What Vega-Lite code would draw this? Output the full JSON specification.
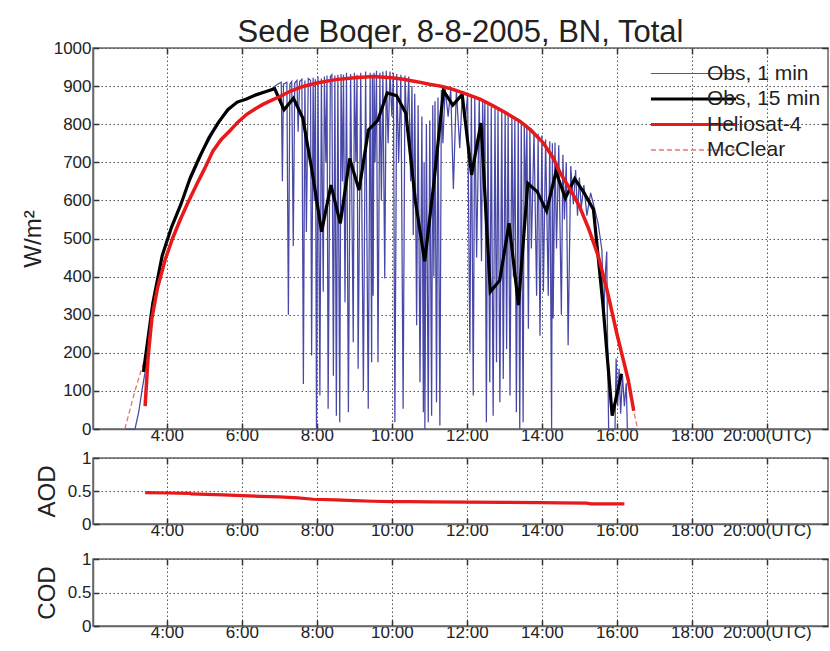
{
  "$schema": "https://vega.github.io/schema/vega-lite/v6.json",
  "background": "white",
  "padding": {"left": 20, "top": 16, "right": 2, "bottom": 2},
  "datasets": {
    "blue": [
      {"t":2.88,"v":0},{"t":3.15,"v":0},{"t":3.25,"v":45},{"t":3.35,"v":110},{"t":3.42,"v":150},{"t":3.5,"v":220},{"t":3.6,"v":310},{"t":3.75,"v":390},{"t":3.9,"v":460},{"t":4.1,"v":525},{"t":4.3,"v":575},{"t":4.5,"v":625},{"t":4.75,"v":680},{"t":5.0,"v":735},{"t":5.25,"v":780},{"t":5.5,"v":820},{"t":5.75,"v":848},{"t":6.0,"v":862},{"t":6.25,"v":870},{"t":6.5,"v":880},{"t":6.75,"v":890},{"t":6.95,"v":905},
      {"t":7.05,"v":910},{"t":7.08,"v":650},{"t":7.11,"v":905},{"t":7.2,"v":910},{"t":7.24,"v":300},{"t":7.28,"v":905},{"t":7.33,"v":912},{"t":7.37,"v":480},{"t":7.41,"v":908},{"t":7.47,"v":915},{"t":7.5,"v":780},{"t":7.54,"v":912},{"t":7.6,"v":918},{"t":7.64,"v":118},{"t":7.68,"v":915},{"t":7.72,"v":517},{"t":7.77,"v":920},{"t":7.83,"v":915},{"t":7.86,"v":193},{"t":7.9,"v":922},{"t":7.93,"v":600},{"t":7.96,"v":918},{"t":7.99,"v":0},{"t":8.03,"v":925},{"t":8.08,"v":88},{"t":8.12,"v":920},{"t":8.17,"v":360},{"t":8.2,"v":925},{"t":8.24,"v":700},{"t":8.27,"v":928},{"t":8.3,"v":53},{"t":8.36,"v":925},{"t":8.4,"v":930},{"t":8.44,"v":140},{"t":8.48,"v":928},{"t":8.52,"v":35},{"t":8.56,"v":930},{"t":8.61,"v":18},{"t":8.645,"v":932},{"t":8.68,"v":650},{"t":8.71,"v":930},{"t":8.75,"v":333},{"t":8.79,"v":935},{"t":8.84,"v":44},{"t":8.9,"v":932},{"t":8.97,"v":228},{"t":9.0,"v":935},{"t":9.04,"v":700},{"t":9.07,"v":930},{"t":9.1,"v":158},{"t":9.17,"v":935},{"t":9.24,"v":100},{"t":9.3,"v":938},{"t":9.37,"v":53},{"t":9.42,"v":935},{"t":9.46,"v":175},{"t":9.48,"v":930},{"t":9.5,"v":350},{"t":9.525,"v":935},{"t":9.55,"v":700},{"t":9.59,"v":940},{"t":9.63,"v":175},{"t":9.68,"v":935},{"t":9.72,"v":600},{"t":9.76,"v":938},{"t":9.81,"v":395},{"t":9.85,"v":940},{"t":9.9,"v":750},{"t":9.95,"v":938},{"t":10.0,"v":820},{"t":10.04,"v":935},{"t":10.08,"v":18},{"t":10.13,"v":932},{"t":10.18,"v":700},{"t":10.24,"v":930},{"t":10.3,"v":53},{"t":10.35,"v":928},{"t":10.4,"v":780},{"t":10.45,"v":925},{"t":10.5,"v":650},{"t":10.535,"v":900},{"t":10.57,"v":509},{"t":10.61,"v":880},{"t":10.66,"v":272},{"t":10.7,"v":850},{"t":10.75,"v":123},{"t":10.8,"v":820},{"t":10.84,"v":44},{"t":10.86,"v":700},{"t":10.88,"v":0},{"t":10.92,"v":800},{"t":10.97,"v":18},{"t":11.01,"v":810},{"t":11.06,"v":35},{"t":11.09,"v":850},{"t":11.12,"v":400},{"t":11.15,"v":860},{"t":11.19,"v":70},{"t":11.23,"v":870},{"t":11.28,"v":9},{"t":11.32,"v":890},{"t":11.36,"v":750},{"t":11.42,"v":895},{"t":11.5,"v":820},{"t":11.57,"v":892},{"t":11.64,"v":630},{"t":11.72,"v":890},{"t":11.81,"v":737},{"t":11.88,"v":885},{"t":11.95,"v":800},{"t":12.02,"v":880},{"t":12.08,"v":200},{"t":12.12,"v":875},{"t":12.17,"v":88},{"t":12.21,"v":870},{"t":12.26,"v":450},{"t":12.33,"v":868},{"t":12.39,"v":440},{"t":12.42,"v":860},{"t":12.45,"v":700},{"t":12.48,"v":858},{"t":12.52,"v":18},{"t":12.56,"v":850},{"t":12.61,"v":123},{"t":12.65,"v":845},{"t":12.7,"v":35},{"t":12.75,"v":842},{"t":12.79,"v":175},{"t":12.83,"v":838},{"t":12.88,"v":70},{"t":12.93,"v":835},{"t":12.97,"v":131},{"t":13.02,"v":830},{"t":13.06,"v":210},{"t":13.1,"v":825},{"t":13.15,"v":88},{"t":13.2,"v":820},{"t":13.24,"v":400},{"t":13.28,"v":815},{"t":13.32,"v":44},{"t":13.37,"v":812},{"t":13.41,"v":0},{"t":13.45,"v":808},{"t":13.5,"v":18},{"t":13.53,"v":800},{"t":13.57,"v":600},{"t":13.6,"v":795},{"t":13.64,"v":263},{"t":13.68,"v":790},{"t":13.72,"v":474},{"t":13.79,"v":780},{"t":13.86,"v":350},{"t":13.9,"v":775},{"t":13.95,"v":245},{"t":14.0,"v":770},{"t":14.04,"v":360},{"t":14.1,"v":760},{"t":14.17,"v":350},{"t":14.21,"v":755},{"t":14.26,"v":0},{"t":14.28,"v":750},{"t":14.3,"v":290},{"t":14.35,"v":752},{"t":14.39,"v":474},{"t":14.45,"v":745},{"t":14.52,"v":300},{"t":14.56,"v":720},{"t":14.6,"v":550},{"t":14.65,"v":700},{"t":14.7,"v":220},{"t":14.77,"v":690},{"t":14.84,"v":590},{"t":14.9,"v":680},{"t":14.95,"v":560},{"t":15.0,"v":660},{"t":15.05,"v":580},{"t":15.12,"v":640},{"t":15.2,"v":560},{"t":15.3,"v":620},{"t":15.4,"v":580},{"t":15.5,"v":540},{"t":15.6,"v":470},{"t":15.65,"v":300},{"t":15.7,"v":420},{"t":15.73,"v":466},{"t":15.75,"v":250},{"t":15.78,"v":0},{"t":15.95,"v":0},{"t":15.98,"v":185},{"t":16.02,"v":60},{"t":16.06,"v":158},{"t":16.1,"v":40},{"t":16.15,"v":140},{"t":16.2,"v":60},{"t":16.25,"v":120},{"t":16.28,"v":0},{"t":16.5,"v":0}
    ],
    "black": [
      {"t":3.375,"v":150},{"t":3.625,"v":330},{"t":3.875,"v":455},{"t":4.125,"v":530},{"t":4.375,"v":590},{"t":4.625,"v":660},{"t":4.875,"v":715},{"t":5.125,"v":765},{"t":5.375,"v":805},{"t":5.625,"v":838},{"t":5.875,"v":858},{"t":6.125,"v":866},{"t":6.375,"v":877},{"t":6.625,"v":885},{"t":6.875,"v":893},{"t":7.125,"v":838},{"t":7.375,"v":868},{"t":7.625,"v":816},{"t":7.875,"v":675},{"t":8.125,"v":518},{"t":8.375,"v":640},{"t":8.625,"v":540},{"t":8.875,"v":710},{"t":9.125,"v":627},{"t":9.375,"v":785},{"t":9.625,"v":810},{"t":9.875,"v":882},{"t":10.125,"v":875},{"t":10.375,"v":828},{"t":10.625,"v":600},{"t":10.875,"v":440},{"t":11.125,"v":650},{"t":11.375,"v":888},{"t":11.625,"v":850},{"t":11.875,"v":878},{"t":12.125,"v":667},{"t":12.375,"v":803},{"t":12.625,"v":360},{"t":12.875,"v":390},{"t":13.125,"v":540},{"t":13.375,"v":325},{"t":13.625,"v":645},{"t":13.875,"v":623},{"t":14.125,"v":572},{"t":14.375,"v":675},{"t":14.625,"v":606},{"t":14.875,"v":657},{"t":15.125,"v":620},{"t":15.375,"v":576},{"t":15.625,"v":330},{"t":15.875,"v":35},{"t":16.125,"v":145}
    ],
    "red": [
      {"t":3.42,"v":60},{"t":3.5,"v":190},{"t":3.6,"v":290},{"t":3.75,"v":370},{"t":3.95,"v":443},{"t":4.15,"v":500},{"t":4.35,"v":548},{"t":4.55,"v":592},{"t":4.8,"v":643},{"t":5.0,"v":682},{"t":5.23,"v":730},{"t":5.45,"v":760},{"t":5.68,"v":783},{"t":5.9,"v":806},{"t":6.13,"v":826},{"t":6.35,"v":840},{"t":6.56,"v":852},{"t":6.8,"v":863},{"t":7.0,"v":872},{"t":7.3,"v":887},{"t":7.63,"v":899},{"t":8.0,"v":908},{"t":8.5,"v":917},{"t":9.0,"v":922},{"t":9.5,"v":925},{"t":10.0,"v":922},{"t":10.3,"v":918},{"t":10.7,"v":911},{"t":11.0,"v":905},{"t":11.3,"v":900},{"t":11.55,"v":894},{"t":11.9,"v":882},{"t":12.35,"v":866},{"t":12.7,"v":848},{"t":13.0,"v":832},{"t":13.41,"v":808},{"t":13.7,"v":785},{"t":14.03,"v":752},{"t":14.3,"v":712},{"t":14.5,"v":670},{"t":14.75,"v":630},{"t":15.0,"v":585},{"t":15.25,"v":525},{"t":15.5,"v":455},{"t":15.75,"v":360},{"t":16.0,"v":250},{"t":16.15,"v":190},{"t":16.3,"v":130},{"t":16.45,"v":48}
    ],
    "mc": [
      {"t":2.88,"v":0},{"t":3.0,"v":45},{"t":3.15,"v":100},{"t":3.3,"v":150},{"t":3.42,"v":185},{"t":3.55,"v":260},{"t":3.7,"v":340},{"t":3.85,"v":410},{"t":3.95,"v":448},{"t":4.35,"v":552},{"t":4.8,"v":645},{"t":5.23,"v":730},{"t":5.68,"v":783},{"t":6.13,"v":826},{"t":6.56,"v":852},{"t":7.0,"v":872},{"t":7.63,"v":899},{"t":8.5,"v":917},{"t":9.5,"v":925},{"t":10.3,"v":918},{"t":11.0,"v":905},{"t":11.9,"v":882},{"t":12.7,"v":848},{"t":13.41,"v":808},{"t":14.03,"v":752},{"t":14.5,"v":670},{"t":15.0,"v":585},{"t":15.5,"v":455},{"t":16.0,"v":250},{"t":16.3,"v":130},{"t":16.45,"v":48},{"t":16.55,"v":0}
    ],
    "aod": [
      {"t":3.42,"a":0.475},{"t":4.0,"a":0.47},{"t":4.6,"a":0.465},{"t":4.65,"a":0.455},{"t":5.5,"a":0.44},{"t":6.0,"a":0.43},{"t":6.5,"a":0.42},{"t":7.0,"a":0.41},{"t":7.5,"a":0.395},{"t":7.9,"a":0.375},{"t":8.5,"a":0.365},{"t":9.0,"a":0.355},{"t":9.5,"a":0.345},{"t":10.0,"a":0.34},{"t":10.5,"a":0.34},{"t":11.0,"a":0.335},{"t":12.0,"a":0.33},{"t":13.0,"a":0.327},{"t":14.0,"a":0.323},{"t":14.5,"a":0.32},{"t":15.2,"a":0.315},{"t":15.3,"a":0.305},{"t":16.2,"a":0.305}
    ]
  },
  "config": {
    "font": "Liberation Sans",
    "view": {"stroke": "#666", "strokeWidth": 1.5},
    "axis": {
      "labelFont": "Liberation Sans", "labelFontSize": 17, "labelColor": "#222",
      "titleFont": "Liberation Sans", "titleFontSize": 24, "titleFontWeight": "normal", "titleColor": "#222",
      "grid": true, "gridColor": "#555", "gridDash": [1.5, 2.5], "gridWidth": 1,
      "domainColor": "#666", "domainWidth": 1.5,
      "tickColor": "#333", "tickSize": -6, "tickWidth": 1.5
    },
    "legend": {"labelFont": "Liberation Sans"}
  },
  "vconcat": [
    {
      "width": 735, "height": 381,
      "title": {"text": "Sede Boqer, 8-8-2005, BN, Total", "fontSize": 31, "font": "Liberation Sans", "fontWeight": "normal", "color": "#222", "frame": "group", "anchor": "middle", "offset": -10},
      "resolve": {"axis": {"x": "independent", "y": "independent"}},
      "layer": [
        {"data": {"name": "mc"}, "mark": {"type": "line", "strokeWidth": 1.3, "strokeDash": [5, 3]},
         "encoding": {
           "x": {"field": "t", "type": "quantitative", "scale": {"domain": [2.03, 21.63], "nice": false, "zero": false},
                 "axis": {"values": [4,6,8,10,12,14,16,18,20], "labelExpr": "datum.value == 20 ? '20:00(UTC)' : datum.value + ':00'", "title": null, "labelPadding": 4, "labelFlush": false}},
           "y": {"field": "v", "type": "quantitative", "scale": {"domain": [0, 1000], "nice": false},
                 "axis": {"values": [0,100,200,300,400,500,600,700,800,900,1000], "format": "d", "title": "W/m²", "labelPadding": 8, "titlePadding": 8}},
           "color": {"datum": "McClear", "type": "nominal",
            "scale": {"domain": ["Obs, 1 min", "Obs, 15 min", "Heliosat-4", "McClear"], "range": ["#4848a8", "#000000", "#e8191a", "#e87575"]},
            "legend": {"title": null, "orient": "none", "legendX": 585, "legendY": 10, "padding": 5, "symbolType": "stroke", "symbolSize": 7250, "labelFontSize": 21, "labelColor": "#222", "rowPadding": 3.5, "labelOffset": 3,
              "encode": {"symbols": {"update": {"strokeWidth": {"signal": "datum.value === 'Obs, 1 min' ? 1 : (datum.value === 'McClear' ? 1.3 : 3.2)"}, "strokeDash": {"signal": "datum.value === 'McClear' ? [5,3] : [1,0]"}}}}}}}},
        {"data": {"name": "blue"}, "mark": {"type": "line", "strokeWidth": 1.25},
         "encoding": {"x": {"field": "t", "type": "quantitative", "axis": null}, "y": {"field": "v", "type": "quantitative", "axis": null},
                      "color": {"datum": "Obs, 1 min", "type": "nominal"}}},
        {"data": {"name": "black"}, "mark": {"type": "line", "strokeWidth": 3.2},
         "encoding": {"x": {"field": "t", "type": "quantitative", "axis": null}, "y": {"field": "v", "type": "quantitative", "axis": null},
                      "color": {"datum": "Obs, 15 min", "type": "nominal"}}},
        {"data": {"name": "red"}, "mark": {"type": "line", "strokeWidth": 3.5},
         "encoding": {"x": {"field": "t", "type": "quantitative", "axis": {"orient": "top", "values": [4,6,8,10,12,14,16,18,20], "labels": false, "grid": false, "domain": false, "title": null}},
                      "y": {"field": "v", "type": "quantitative", "axis": {"orient": "right", "values": [0,100,200,300,400,500,600,700,800,900,1000], "labels": false, "grid": false, "domain": false, "title": null}},
                      "color": {"datum": "Heliosat-4", "type": "nominal"}}}
      ]
    },
    {
      "spacing": 35,
      "bounds": "flush",
      "vconcat": [
        {
          "width": 735, "height": 66,
          "data": {"name": "aod"},
          "resolve": {"axis": {"x": "independent", "y": "independent"}},
          "layer": [
            {"mark": {"type": "line", "color": "#e8191a", "strokeWidth": 3.2},
             "encoding": {
               "x": {"field": "t", "type": "quantitative", "scale": {"domain": [2.03, 21.63], "nice": false, "zero": false},
                     "axis": {"values": [4,6,8,10,12,14,16,18,20], "labelExpr": "datum.value == 20 ? '20:00(UTC)' : datum.value + ':00'", "title": null, "labelPadding": 4, "labelFlush": false}},
               "y": {"field": "a", "type": "quantitative", "scale": {"domain": [0, 1], "nice": false},
                     "axis": {"values": [0, 0.5, 1], "format": "~g", "title": "AOD", "labelPadding": 8, "titlePadding": 8}}}},
            {"mark": {"type": "line", "opacity": 0},
             "encoding": {
               "x": {"field": "t", "type": "quantitative", "axis": {"orient": "top", "values": [4,6,8,10,12,14,16,18,20], "labels": false, "grid": false, "domain": false, "title": null}},
               "y": {"field": "a", "type": "quantitative", "axis": {"orient": "right", "values": [0, 0.5, 1], "labels": false, "grid": false, "domain": false, "title": null}}}}
          ]
        },
        {
          "width": 735, "height": 67,
          "data": {"values": []},
          "resolve": {"axis": {"x": "independent", "y": "independent"}},
          "layer": [
            {"mark": {"type": "line", "color": "#e8191a", "strokeWidth": 3},
             "encoding": {
               "x": {"field": "t", "type": "quantitative", "scale": {"domain": [2.03, 21.63], "nice": false, "zero": false},
                     "axis": {"values": [4,6,8,10,12,14,16,18,20], "labelExpr": "datum.value == 20 ? '20:00(UTC)' : datum.value + ':00'", "title": null, "labelPadding": 4, "labelFlush": false}},
               "y": {"field": "c", "type": "quantitative", "scale": {"domain": [0, 1], "nice": false},
                     "axis": {"values": [0, 0.5, 1], "format": "~g", "title": "COD", "labelPadding": 8, "titlePadding": 8}}}},
            {"mark": {"type": "line", "opacity": 0},
             "encoding": {
               "x": {"field": "t", "type": "quantitative", "axis": {"orient": "top", "values": [4,6,8,10,12,14,16,18,20], "labels": false, "grid": false, "domain": false, "title": null}},
               "y": {"field": "c", "type": "quantitative", "axis": {"orient": "right", "values": [0, 0.5, 1], "labels": false, "grid": false, "domain": false, "title": null}}}}
          ]
        }
      ]
    }
  ],
  "spacing": 29,
  "bounds": "flush",
  "resolve": {"scale": {"color": "independent"}, "legend": {"color": "independent"}}
}
